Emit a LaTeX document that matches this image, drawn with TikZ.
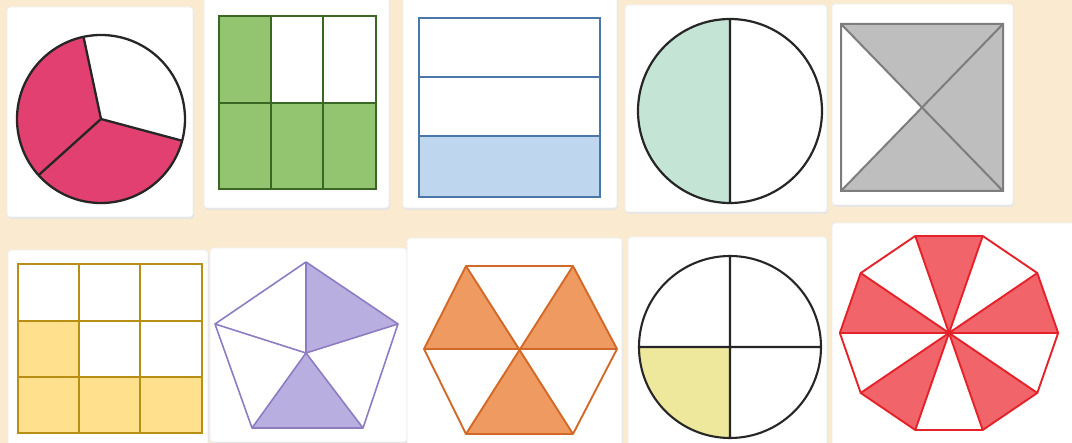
\documentclass[tikz,border=0pt]{standalone}
\begin{document}
\begin{tikzpicture}[x=1pt,y=-1pt,
  card/.style={fill=white, draw=black!7, line width=0.8pt, rounded corners=3pt},
  shadowbox/.style={fill=black!10, rounded corners=3pt}]
\definecolor{bgc}{RGB}{250,235,208}
\definecolor{pinkf}{RGB}{226,64,112}
\definecolor{greenf}{RGB}{147,197,112}
\definecolor{greend}{RGB}{58,104,36}
\definecolor{bluef}{RGB}{190,215,238}
\definecolor{blued}{RGB}{74,118,168}
\definecolor{mintf}{RGB}{196,229,214}
\definecolor{grayf}{RGB}{190,190,190}
\definecolor{grayd}{RGB}{125,125,125}
\definecolor{yelf}{RGB}{255,224,140}
\definecolor{yeld}{RGB}{184,142,20}
\definecolor{lavf}{RGB}{185,174,224}
\definecolor{lavd}{RGB}{142,124,195}
\definecolor{orf}{RGB}{238,154,96}
\definecolor{ord}{RGB}{210,105,40}
\definecolor{palef}{RGB}{237,232,155}
\definecolor{redf}{RGB}{240,100,106}
\definecolor{redd}{RGB}{228,34,42}
\useasboundingbox (0,0) rectangle (1072,443);
\fill[bgc] (0,0) rectangle (1072,443);
% cards
\foreach \a/\b/\c/\d in {7/7/193/217, 204/-4/389/208, 403/-4/617/208, 625/5/827/212, 832/4/1013/205,
  8/250/208/448, 210/248/407/442, 407/238/622/448, 628/237/827/448, 832/223/1078/448}{
  \fill[shadowbox] (\a+1,\b+2) rectangle (\c+1,\d+2);
  \path[card] (\a,\b) rectangle (\c,\d);
}
% 1: pie thirds
\begin{scope}[shift={(101,119)},yscale=-1]
  \fill[pinkf] (0,0) circle[radius=84];
  \fill[white] (0,0) -- (-15:84) arc[start angle=-15,end angle=102,radius=84] -- cycle;
  \draw[line width=2.3pt,black!85] (102:84) -- (0,0) -- (-15:84) (0,0) -- (222:84);
  \draw[line width=2.3pt,black!85] (0,0) circle[radius=84];
\end{scope}
% 2: green grid
\fill[greenf] (219,16) rectangle (271,103);
\fill[greenf] (219,103) rectangle (376,189);
\draw[greend,line width=2.3pt] (219,16) rectangle (376,189)
  (219,103) -- (376,103) (271,16) -- (271,189) (323,16) -- (323,189);
% 3: blue strips
\fill[bluef] (419,136) rectangle (600,197);
\draw[blued,line width=2.3pt] (419,18) rectangle (600,197)
  (419,77) -- (600,77) (419,136) -- (600,136);
% 4: half circle
\begin{scope}[shift={(730,111)},yscale=-1]
  \fill[mintf] (0,0) -- (90:92) arc[start angle=90,end angle=270,radius=92] -- cycle;
  \draw[line width=2.2pt,black!85] (0,0) circle[radius=92] (0,92) -- (0,-92);
\end{scope}
% 5: square with X
\fill[grayf] (841,24) rectangle (1003,191);
\fill[white] (841,24) -- (922,107.5) -- (841,191) -- cycle;
\draw[grayd,line width=2pt] (841,24) rectangle (1003,191)
  (841,24) -- (1003,191) (841,191) -- (1003,24);
% 6: yellow grid
\fill[yelf] (18,321) rectangle (79,377);
\fill[yelf] (18,377) rectangle (202,433);
\draw[yeld,line width=2.3pt] (18,264) rectangle (202,433)
  (18,321) -- (202,321) (18,377) -- (202,377) (79,264) -- (79,433) (140,264) -- (140,433);
% 7: pentagon
\coordinate (pc) at (306,353);
\coordinate (p1) at (306,262);
\coordinate (p2) at (398,324);
\coordinate (p3) at (363,428);
\coordinate (p4) at (252,428);
\coordinate (p5) at (215,324);
\fill[lavf] (pc) -- (p1) -- (p2) -- cycle;
\fill[lavf] (pc) -- (p3) -- (p4) -- cycle;
\draw[lavd,line width=1.6pt,line join=round] (p1) -- (p2) -- (p3) -- (p4) -- (p5) -- cycle
  (pc) -- (p1) (pc) -- (p2) (pc) -- (p3) (pc) -- (p4) (pc) -- (p5);
% 8: hexagon
\coordinate (hc) at (520,349);
\coordinate (h1) at (466,266);
\coordinate (h2) at (573,266);
\coordinate (h3) at (617,349);
\coordinate (h4) at (573,434);
\coordinate (h5) at (466,434);
\coordinate (h6) at (424,349);
\fill[orf] (hc) -- (h6) -- (h1) -- cycle;
\fill[orf] (hc) -- (h2) -- (h3) -- cycle;
\fill[orf] (hc) -- (h4) -- (h5) -- cycle;
\draw[ord,line width=1.9pt,line join=round] (h1) -- (h2) -- (h3) -- (h4) -- (h5) -- (h6) -- cycle
  (h1) -- (h4) (h2) -- (h5);
\draw[ord,line width=2.8pt] (h6) -- (h3);
% 9: quarter circle
\begin{scope}[shift={(730,347)},yscale=-1]
  \fill[palef] (0,0) -- (180:91) arc[start angle=180,end angle=270,radius=91] -- cycle;
  \draw[line width=2.1pt,black!85] (0,0) circle[radius=91] (-91,0) -- (91,0) (0,91) -- (0,-91);
\end{scope}
% 10: decagon
\begin{scope}[shift={(949,333)},xscale=1.07,yscale=-1]
  \foreach \s in {0,72,144,216,288}{
    \fill[redf] (0,0) -- (\s:102) -- (\s+36:102) -- cycle;
  }
  \draw[redd,line width=1.9pt,line join=round] (0:102) \foreach \t in {36,72,...,324}{ -- (\t:102)} -- cycle;
  \foreach \t in {0,36,...,144}{
    \draw[redd,line width=1.9pt] (\t:102) -- (\t+180:102);
  }
\end{scope}
\end{tikzpicture}
\end{document}
